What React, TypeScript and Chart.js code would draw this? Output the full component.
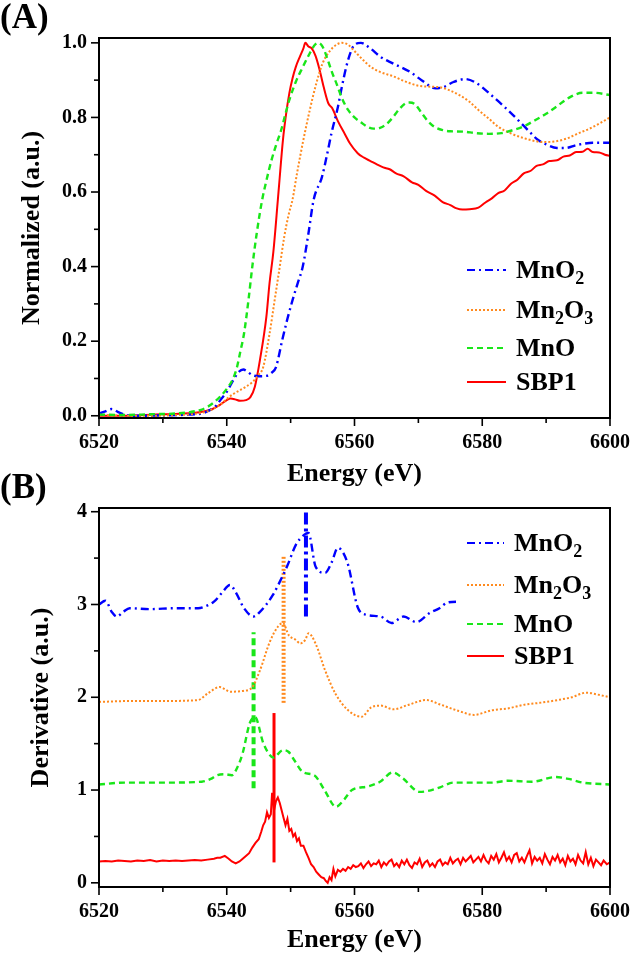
import React, { useEffect, useRef } from "react";
import { Chart, registerables } from "chart.js";
Chart.register(...registerables);

type P = [number, number];

// ---------- Panel A: normalized XANES ----------
const mno2Norm: P[] = [[6520,0.006],[6521,0.012],[6522,0.018],[6523,0.01],[6524,0.003],[6526,0.0],[6530,0.001],[6534,0.003],[6536,0.006],[6537,0.012],[6538,0.022],[6538.5,0.03],[6539,0.042],[6540,0.064],[6541,0.095],[6541.9,0.118],[6542.6,0.124],[6543.1,0.12],[6544,0.109],[6545,0.106],[6546.2,0.107],[6547,0.115],[6547.7,0.13],[6548.7,0.204],[6549.5,0.26],[6550.3,0.31],[6551.1,0.355],[6551.9,0.4],[6552.8,0.49],[6553.6,0.579],[6554.9,0.64],[6555.7,0.7],[6556.4,0.758],[6557.4,0.828],[6558,0.88],[6558.7,0.935],[6559.4,0.975],[6560,0.995],[6561,1.0],[6562.5,0.985],[6564.1,0.962],[6566,0.945],[6568.7,0.922],[6570.5,0.9],[6572.7,0.878],[6574,0.882],[6575.5,0.895],[6577.3,0.903],[6579,0.893],[6581.4,0.86],[6583.5,0.828],[6585.6,0.793],[6587.5,0.76],[6588.7,0.74],[6590,0.728],[6591.7,0.718],[6593,0.718],[6594.8,0.726],[6597.3,0.732],[6600,0.732]];
const mn2o3Norm: P[] = [[6520,0.003],[6524,0.0],[6528,0.0],[6532,0.002],[6535,0.005],[6537,0.012],[6538,0.02],[6539,0.03],[6540,0.045],[6541,0.058],[6542,0.068],[6543,0.078],[6544,0.09],[6545,0.11],[6545.7,0.13],[6546.7,0.22],[6547.5,0.31],[6548.3,0.4],[6549,0.48],[6549.7,0.54],[6550.3,0.58],[6551,0.65],[6552,0.74],[6553,0.82],[6554,0.89],[6555,0.945],[6556,0.975],[6557,0.993],[6558,1.0],[6559,0.995],[6560,0.978],[6561,0.96],[6562.6,0.935],[6564,0.922],[6566.1,0.91],[6568,0.896],[6570.3,0.884],[6573.3,0.881],[6575,0.872],[6576.4,0.86],[6578,0.842],[6579.4,0.82],[6581,0.797],[6582.5,0.775],[6584.5,0.757],[6586.6,0.744],[6589.6,0.734],[6591.5,0.736],[6593.3,0.744],[6595,0.757],[6596.8,0.77],[6598.5,0.785],[6600,0.8]];
const mnoNorm: P[] = [[6520,0.003],[6524,0.002],[6528,0.004],[6532,0.006],[6534,0.009],[6535,0.012],[6536,0.016],[6537,0.024],[6538,0.036],[6539,0.052],[6540,0.072],[6541,0.1],[6541.6,0.13],[6542.1,0.17],[6542.7,0.22],[6543.4,0.31],[6544,0.4],[6544.7,0.49],[6545.5,0.575],[6546.2,0.63],[6547,0.685],[6547.8,0.73],[6548.5,0.765],[6549.2,0.81],[6549.8,0.847],[6550.8,0.895],[6551.9,0.935],[6553,0.972],[6553.8,0.995],[6554.3,1.0],[6555,0.99],[6555.8,0.955],[6556.5,0.92],[6557.2,0.89],[6558,0.853],[6559,0.82],[6560,0.8],[6561,0.787],[6562,0.775],[6563,0.77],[6564,0.772],[6565,0.782],[6566,0.8],[6567,0.822],[6568,0.838],[6568.6,0.84],[6569.5,0.835],[6570.5,0.812],[6571.5,0.79],[6572.5,0.775],[6573.8,0.766],[6575,0.763],[6577,0.762],[6579,0.758],[6581,0.756],[6583,0.758],[6585,0.767],[6586.5,0.776],[6588,0.79],[6590,0.81],[6591.7,0.83],[6593.5,0.852],[6595.7,0.866],[6597.5,0.866],[6600,0.86]];
const sbp1Norm: P[] = [[6520,0.0],[6524,0.0],[6528,0.003],[6532,0.005],[6535,0.008],[6536.5,0.012],[6537.5,0.016],[6539,0.03],[6540,0.042],[6540.6,0.046],[6541.3,0.044],[6542.1,0.04],[6543,0.042],[6543.7,0.05],[6544.4,0.078],[6545.2,0.15],[6546.2,0.265],[6546.7,0.356],[6547.3,0.44],[6548,0.579],[6548.2,0.62],[6548.8,0.74],[6549.3,0.81],[6549.8,0.865],[6550.3,0.905],[6550.8,0.935],[6551.5,0.965],[6552,0.985],[6552.3,1.0],[6552.8,0.99],[6553.3,0.985],[6553.9,0.965],[6554.5,0.93],[6555.2,0.88],[6555.9,0.838],[6556.5,0.825],[6557.4,0.79],[6558.5,0.755],[6559.3,0.73],[6560.5,0.704],[6561.5,0.692],[6562.5,0.683],[6563.5,0.674],[6564.5,0.666],[6565.5,0.661],[6566.5,0.65],[6567.7,0.642],[6569,0.626],[6570,0.619],[6571.2,0.603],[6572.5,0.591],[6573.8,0.573],[6575,0.565],[6576,0.556],[6576.9,0.553],[6578,0.554],[6579.4,0.558],[6580.5,0.572],[6581.5,0.583],[6582.5,0.597],[6583.5,0.604],[6584.5,0.622],[6585.5,0.633],[6586.5,0.65],[6587.6,0.657],[6588.5,0.67],[6589.5,0.674],[6590.5,0.683],[6591.7,0.685],[6592.7,0.695],[6593.7,0.698],[6594.7,0.707],[6595.7,0.708],[6596.5,0.716],[6597.3,0.707],[6598.3,0.706],[6599.2,0.7],[6600,0.697]];

// ---------- Panel B: derivative ----------
const mno2Deriv: P[] = [[6520,3.0],[6521,3.04],[6522,2.92],[6522.8,2.87],[6523.8,2.92],[6524.8,2.96],[6528,2.95],[6532,2.96],[6535.5,2.96],[6537,2.99],[6538,3.03],[6539.3,3.13],[6540.5,3.21],[6541.5,3.12],[6542.7,2.96],[6544.2,2.87],[6545.2,2.92],[6546.2,3.0],[6547.2,3.1],[6548.2,3.23],[6549.5,3.42],[6550.8,3.64],[6552.1,3.75],[6552.8,3.77],[6553.9,3.41],[6555.4,3.34],[6556.4,3.45],[6557.4,3.61],[6558.9,3.45],[6560.5,2.97],[6561.8,2.89],[6564.1,2.87],[6565.8,2.8],[6567.7,2.87],[6569.7,2.81],[6571.8,2.91],[6573.3,2.96],[6574.5,3.02],[6576,3.03],[6580,2.98],[6584,2.96],[6588,2.97],[6592,2.95],[6596,2.95],[6598.3,2.94],[6600,2.93]];
const mn2o3Deriv: P[] = [[6520,1.95],[6525,1.96],[6530,1.96],[6535.5,1.97],[6537,2.04],[6538.9,2.11],[6540.6,2.06],[6542.7,2.07],[6543.9,2.1],[6545.2,2.29],[6546.7,2.59],[6548,2.76],[6548.8,2.8],[6549.7,2.67],[6550.8,2.62],[6551.5,2.58],[6552.3,2.62],[6552.8,2.69],[6553.9,2.58],[6555.4,2.29],[6557,2.04],[6559,1.86],[6561.1,1.79],[6562.6,1.89],[6564.1,1.91],[6566.1,1.87],[6568.5,1.92],[6571.2,1.97],[6573.5,1.92],[6576.4,1.85],[6578.7,1.81],[6581.5,1.86],[6584,1.88],[6586.6,1.92],[6589,1.94],[6591.8,1.97],[6594,2.0],[6596.3,2.05],[6598,2.03],[6600,2.0]];
const mnoDeriv: P[] = [[6520,1.06],[6524,1.08],[6530,1.08],[6536.1,1.09],[6537.5,1.12],[6538.5,1.16],[6539.7,1.17],[6540.8,1.16],[6541.7,1.25],[6542.5,1.4],[6543.6,1.72],[6544.4,1.79],[6545.7,1.51],[6546.5,1.4],[6547.3,1.35],[6548.8,1.43],[6549.7,1.41],[6550.5,1.33],[6552,1.19],[6553.7,1.16],[6555.3,1.0],[6557.1,0.82],[6558.4,0.9],[6559.6,1.0],[6562.2,1.04],[6564,1.09],[6566,1.19],[6567.5,1.13],[6570.2,0.98],[6571.5,0.99],[6573.4,1.03],[6575.5,1.08],[6578.7,1.08],[6581.5,1.08],[6584,1.1],[6587.8,1.09],[6591.5,1.14],[6593.5,1.12],[6595.8,1.08],[6600,1.06]];
const sbp1Deriv: P[] = [[6520,0.23],[6521,0.235],[6522,0.23],[6523,0.24],[6524,0.235],[6525,0.23],[6526,0.24],[6527,0.235],[6528,0.245],[6529,0.23],[6530,0.24],[6531,0.235],[6532,0.24],[6533,0.235],[6534,0.24],[6535,0.245],[6536,0.24],[6537,0.25],[6538,0.26],[6538.5,0.27],[6539,0.27],[6539.7,0.29],[6540.3,0.26],[6540.8,0.23],[6541.4,0.21],[6542,0.23],[6542.5,0.26],[6543,0.29],[6543.5,0.32],[6544,0.38],[6544.5,0.43],[6545,0.47],[6545.4,0.55],[6545.7,0.62],[6546,0.66],[6546.3,0.76],[6546.6,0.7],[6546.9,0.74],[6547.1,0.97],[6547.4,0.78],[6547.7,0.88],[6548,0.92],[6548.3,0.86],[6548.6,0.78],[6548.9,0.7],[6549.2,0.62],[6549.5,0.69],[6549.8,0.56],[6550.1,0.58],[6550.4,0.5],[6550.7,0.53],[6551,0.45],[6551.3,0.48],[6551.6,0.4],[6552,0.4],[6552.4,0.33],[6552.8,0.27],[6553.2,0.2],[6553.6,0.17],[6554,0.12],[6554.4,0.09],[6554.8,0.06],[6555.2,0.05],[6555.5,0.02],[6555.8,0.0],[6556.1,0.06],[6556.4,0.03],[6556.7,0.15],[6557,0.07],[6557.4,0.14],[6557.8,0.12],[6558.2,0.15],[6558.6,0.13],[6559,0.17],[6559.4,0.15],[6559.8,0.19],[6560.2,0.17],[6560.6,0.18],[6561,0.21],[6561.4,0.16],[6561.8,0.2],[6562.2,0.23],[6562.6,0.18],[6563,0.21],[6563.4,0.2],[6563.8,0.24],[6564.2,0.17],[6564.6,0.22],[6565,0.19],[6565.4,0.23],[6565.8,0.25],[6566.2,0.18],[6566.6,0.21],[6567,0.17],[6567.4,0.24],[6567.8,0.2],[6568.2,0.25],[6568.6,0.19],[6569,0.16],[6569.4,0.22],[6569.8,0.2],[6570.2,0.26],[6570.6,0.17],[6571,0.22],[6571.4,0.24],[6571.8,0.18],[6572.2,0.21],[6572.6,0.17],[6573,0.23],[6573.4,0.25],[6573.8,0.19],[6574.2,0.22],[6574.6,0.2],[6575,0.27],[6575.4,0.21],[6575.8,0.24],[6576.2,0.26],[6576.6,0.2],[6577,0.27],[6577.4,0.23],[6577.8,0.26],[6578.2,0.29],[6578.6,0.22],[6579,0.25],[6579.4,0.28],[6579.8,0.23],[6580.2,0.3],[6580.6,0.24],[6581,0.21],[6581.4,0.29],[6581.8,0.25],[6582.2,0.31],[6582.6,0.22],[6583,0.27],[6583.4,0.33],[6583.8,0.24],[6584.2,0.28],[6584.6,0.22],[6585,0.3],[6585.4,0.32],[6585.8,0.23],[6586.2,0.27],[6586.6,0.22],[6587,0.29],[6587.4,0.35],[6587.8,0.21],[6588.2,0.28],[6588.6,0.24],[6589,0.27],[6589.4,0.21],[6589.8,0.31],[6590.2,0.25],[6590.6,0.2],[6591,0.28],[6591.4,0.24],[6591.8,0.3],[6592.2,0.22],[6592.6,0.26],[6593,0.19],[6593.4,0.29],[6593.8,0.23],[6594.2,0.26],[6594.6,0.2],[6595,0.3],[6595.4,0.24],[6595.8,0.21],[6596.2,0.33],[6596.6,0.2],[6597,0.27],[6597.4,0.18],[6597.8,0.25],[6598.2,0.22],[6598.6,0.19],[6599,0.24],[6599.5,0.2],[6600,0.22]];

// edge-position markers in panel B: [energy, yLow, yHigh]
const mno2Marker = [6552.4, 2.87, 4.0];
const mn2o3Marker = [6548.9, 1.94, 3.52];
const mnoMarker = [6544.2, 1.02, 2.7];
const sbp1Marker = [6547.4, 0.22, 1.83];

const energyRange = [6520, 6600];
const normRange = [-0.006, 1.013];
const derivRange = [-0.045, 4.04];

const seriesNames = ["MnO2", "Mn2O3", "MnO", "SBP1"];

const FONT = "'Liberation Serif', 'Times New Roman', serif";
const BLUE = "#0000ff";
const ORANGE = "#ff8a1e";
const GREEN = "#19e619";
const RED = "#ff0000";

const styles = [
  { color: BLUE, dash: [8, 4, 2, 4], width: 2.4 },
  { color: ORANGE, dash: [2, 2], width: 2 },
  { color: GREEN, dash: [6, 4], width: 2.4 },
  { color: RED, dash: [] as number[], width: 2 },
];

const toXY = (pts: P[]) => pts.map(([x, y]) => ({ x, y }));

function curve(pts: P[], i: number, smooth = true) {
  const s = styles[i];
  return {
    data: toXY(pts),
    showLine: true,
    borderColor: s.color,
    borderWidth: s.width,
    borderDash: s.dash,
    pointRadius: 0,
    fill: false,
    tension: 0,
    cubicInterpolationMode: smooth ? "monotone" : "default",
  };
}

function marker(m: number[], i: number, width: number, dash: number[]) {
  return {
    data: [{ x: m[0], y: m[1] }, { x: m[0], y: m[2] }],
    showLine: true,
    borderColor: styles[i].color,
    borderWidth: width,
    borderDash: dash,
    pointRadius: 0,
    fill: false,
    tension: 0,
  };
}

function drawLabel(ctx: CanvasRenderingContext2D, name: string, x: number, base: number) {
  // digits in chemical formulas are drawn as subscripts
  let cx = x;
  for (const ch of name) {
    const sub = /[0-9]/.test(ch) && name !== "SBP1";
    ctx.font = sub ? `bold 18px ${FONT}` : `bold 26px ${FONT}`;
    ctx.fillText(ch, cx, sub ? base + 6 : base);
    cx += ctx.measureText(ch).width;
  }
}

type PanelCfg = {
  label: string;
  labelY: number;
  legendBox: [number, number, number, number];
  legendRows: number[];
  legendX: [number, number, number];
  yStep: number;
  yMajorEvery: number;
};

function makePlugin(cfg: PanelCfg) {
  return {
    id: "panelDecor" + cfg.label,
    afterDatasetsDraw(chart: any) {
      const ctx = chart.ctx as CanvasRenderingContext2D;
      ctx.save();
      const [bx, by, bw, bh] = cfg.legendBox;
      ctx.fillStyle = "#ffffff";
      ctx.fillRect(bx, by, bw, bh);
      const [x0, x1, tx] = cfg.legendX;
      cfg.legendRows.forEach((ry, i) => {
        const s = styles[i];
        ctx.strokeStyle = s.color;
        ctx.lineWidth = 2;
        ctx.setLineDash(s.dash);
        ctx.beginPath();
        ctx.moveTo(x0, ry);
        ctx.lineTo(x1, ry);
        ctx.stroke();
        ctx.setLineDash([]);
        ctx.fillStyle = "#000";
        ctx.textBaseline = "alphabetic";
        ctx.textAlign = "left";
        drawLabel(ctx, seriesNames[i], tx, ry + 8);
      });
      ctx.restore();
    },
    afterDraw(chart: any) {
      const ctx = chart.ctx as CanvasRenderingContext2D;
      const { left, right, top, bottom } = chart.chartArea;
      const xs = chart.scales.x;
      const ys = chart.scales.y;
      ctx.save();
      ctx.strokeStyle = "#000";
      ctx.setLineDash([]);
      ctx.lineWidth = 1.6;
      for (let v = energyRange[0]; v <= energyRange[1]; v += 10) {
        const px = xs.getPixelForValue(v);
        const len = (v - energyRange[0]) % 20 === 0 ? 8 : 5;
        ctx.beginPath();
        ctx.moveTo(px, bottom);
        ctx.lineTo(px, bottom + len);
        ctx.stroke();
      }
      const nSteps = Math.round(ys.max / cfg.yStep);
      for (let k = 0; k <= nSteps; k++) {
        const v = k * cfg.yStep;
        if (v > ys.max) break;
        const py = ys.getPixelForValue(v);
        const len = k % cfg.yMajorEvery === 0 ? 8 : 5;
        ctx.beginPath();
        ctx.moveTo(left, py);
        ctx.lineTo(left - len, py);
        ctx.stroke();
      }
      ctx.lineWidth = 2;
      ctx.strokeRect(left, top, right - left, bottom - top);
      ctx.fillStyle = "#000";
      ctx.font = `bold 35px ${FONT}`;
      ctx.textAlign = "left";
      ctx.textBaseline = "alphabetic";
      ctx.fillText(cfg.label, 0, cfg.labelY);
      ctx.restore();
    },
  };
}

function buildChart(
  canvas: HTMLCanvasElement,
  datasets: any[],
  yRange: number[],
  yStep: number,
  yMajorEvery: number,
  yTitle: string,
  yTitlePad: number,
  padTop: number,
  xAxisH: number,
  bottomPad: number,
  cfg: PanelCfg
) {
  return new Chart(canvas, {
    type: "scatter",
    data: { datasets },
    plugins: [makePlugin(cfg)],
    options: {
      animation: false,
      responsive: false,
      devicePixelRatio: 1,
      layout: { padding: { top: padTop, left: 0, right: 22, bottom: bottomPad } },
      plugins: { legend: { display: false }, tooltip: { enabled: false } },
      scales: {
        x: {
          type: "linear",
          min: energyRange[0],
          max: energyRange[1],
          afterFit: (s: any) => {
            s.height = xAxisH;
          },
          grid: { display: false, drawTicks: false },
          border: { display: false },
          ticks: {
            stepSize: 10,
            autoSkip: false,
            maxRotation: 0,
            includeBounds: false,
            padding: 13,
            color: "#000",
            font: { family: FONT, size: 20, weight: "bold" },
            callback: (v: any) => ((Number(v) - energyRange[0]) % 20 === 0 ? String(v) : ""),
          },
          title: {
            display: true,
            text: "Energy (eV)",
            color: "#000",
            padding: { top: 0, bottom: 0 },
            font: { family: FONT, size: 26, weight: "bold", lineHeight: 1 },
          },
        },
        y: {
          type: "linear",
          min: yRange[0],
          max: yRange[1],
          afterFit: (s: any) => {
            s.width = 99;
          },
          grid: { display: false, drawTicks: false },
          border: { display: false },
          ticks: {
            stepSize: yStep,
            autoSkip: false,
            includeBounds: false,
            padding: 12,
            color: "#000",
            font: { family: FONT, size: 20, weight: "bold" },
            callback: (v: any) => {
              const k = Math.round(Number(v) / yStep);
              if (k % yMajorEvery !== 0) return "";
              const val = k * yStep;
              return yStep < 0.5 ? val.toFixed(1) : String(Math.round(val));
            },
          },
          title: {
            display: true,
            text: yTitle,
            color: "#000",
            padding: { top: yTitlePad, bottom: 0 },
            font: { family: FONT, size: 26, weight: "bold", lineHeight: 1 },
          },
        },
      },
    } as any,
  });
}

export default function App() {
  const refA = useRef<HTMLCanvasElement>(null);
  const refB = useRef<HTMLCanvasElement>(null);

  useEffect(() => {
    const dsA = [
      curve(mnoNorm, 2),
      curve(mn2o3Norm, 1),
      curve(mno2Norm, 0),
      curve(sbp1Norm, 3),
    ];
    const dsB = [
      curve(mno2Deriv, 0),
      curve(mn2o3Deriv, 1),
      curve(mnoDeriv, 2),
      curve(sbp1Deriv, 3, false),
      marker(mno2Marker, 0, 4, [12, 4, 3, 4]),
      marker(mn2o3Marker, 1, 4, [2, 2]),
      marker(mnoMarker, 2, 4, [7, 4]),
      marker(sbp1Marker, 3, 3, []),
    ];
    const a = buildChart(refA.current!, dsA, normRange, 0.1, 2, "Normalized (a.u.)", 19, 38, 69, 953 - 418 - 69, {
      label: "(A)",
      labelY: 28,
      legendBox: [454, 240, 154, 165],
      legendRows: [270, 310, 348, 382],
      legendX: [467, 506, 516],
      yStep: 0.1,
      yMajorEvery: 2,
    });
    const b = buildChart(refB.current!, dsB, derivRange, 0.5, 2, "Derivative (a.u.)", 28, 508, 66, 0, {
      label: "(B)",
      labelY: 498,
      legendBox: [456, 516, 152, 164],
      legendRows: [543, 585, 624, 656],
      legendX: [467, 504, 514],
      yStep: 0.5,
      yMajorEvery: 2,
    });
    return () => {
      a.destroy();
      b.destroy();
    };
  }, []);

  const cs: React.CSSProperties = { position: "absolute", left: 0, top: 0, width: 643, height: 953 };
  return (
    <div style={{ position: "absolute", left: 0, top: 0, width: 643, height: 953, background: "#fff" }}>
      <canvas ref={refA} width={643} height={953} style={cs} />
      <canvas ref={refB} width={643} height={953} style={cs} />
    </div>
  );
}
